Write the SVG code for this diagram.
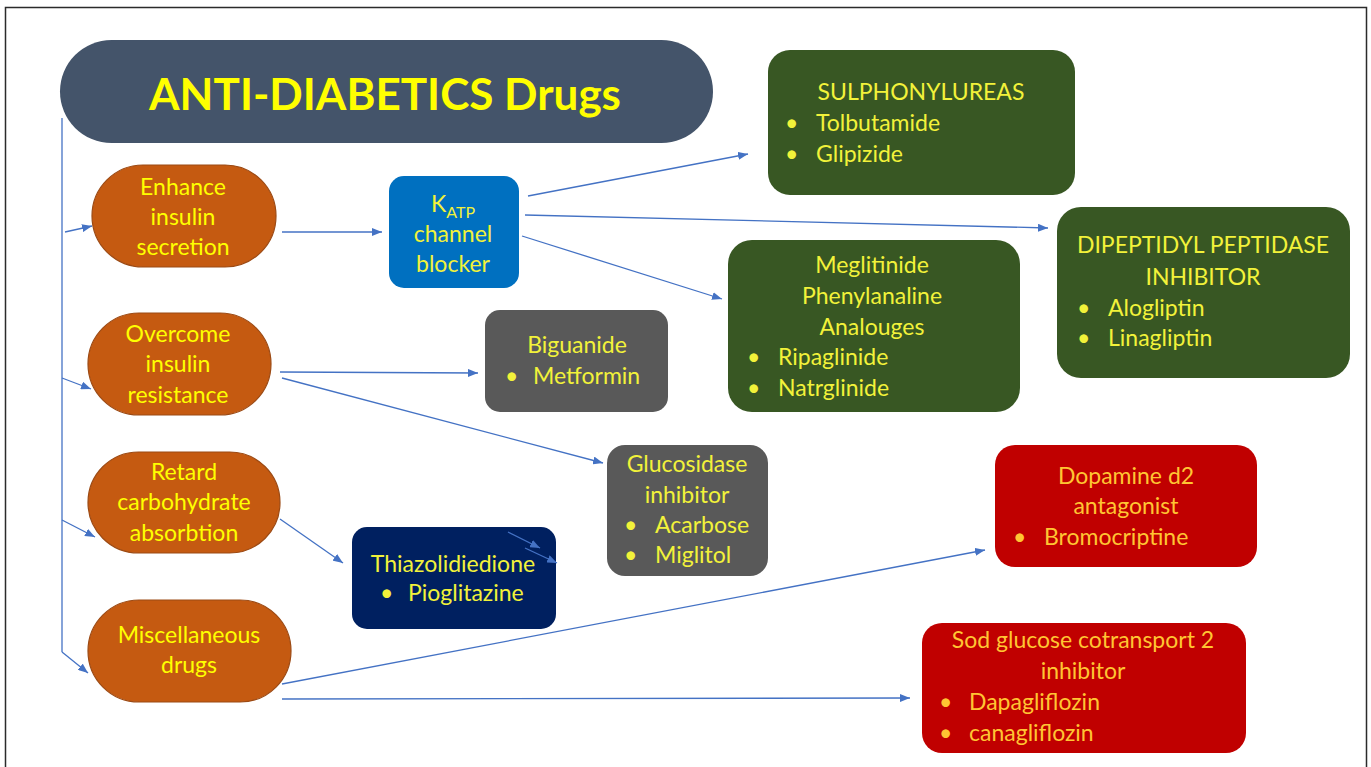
<svg xmlns="http://www.w3.org/2000/svg" width="1371" height="767" viewBox="0 0 1371 767">
<defs>
<marker id="ah" markerUnits="userSpaceOnUse" markerWidth="10" markerHeight="8" refX="10" refY="4" orient="auto">
<path d="M0,0 L10,4 L0,8 z" fill="#4472c4"/>
</marker>
<style>
.t{font-family:Lato,"Liberation Sans",sans-serif;font-size:23px;fill:#f2f23a;}
.c{text-anchor:middle;}
.oval{fill:#c55a11;stroke:#9c4a14;stroke-width:1.2;}
.ot{fill:#ffff00;}
.red{fill:#ffc533;}
.green{fill:#385723;}
.gray{fill:#595959;}
.conn line,.conn path{stroke:#4472c4;stroke-width:1.3;fill:none;}
.arr{marker-end:url(#ah);}
</style>
</defs>
<rect width="1371" height="767" fill="#ffffff"/>
<path d="M5.5,767 V7.5 H1366.5 V767" fill="none" stroke="#2b2b2b" stroke-width="1.5"/>

<g id="title">
<rect x="60" y="40" width="653" height="103" rx="51.5" fill="#44546a"/>
<text x="385" y="110" text-anchor="middle" font-family="Lato,'Liberation Sans',sans-serif" font-weight="bold" font-size="44" fill="#ffff00">ANTI-DIABETICS Drugs</text>
</g>

<g class="conn" id="connectors">
<line x1="62" y1="118" x2="62" y2="652"/>
<line class="arr" x1="65" y1="232" x2="92" y2="226"/>
<line class="arr" x1="62" y1="378" x2="91" y2="389"/>
<line class="arr" x1="62" y1="520" x2="95" y2="537"/>
<line class="arr" x1="62" y1="652" x2="88" y2="673"/>
<line class="arr" x1="282" y1="232" x2="382" y2="232"/>
<line class="arr" x1="528" y1="196" x2="748" y2="154"/>
<line class="arr" x1="525" y1="215" x2="1048" y2="228"/>
<line class="arr" x1="522" y1="236" x2="722" y2="299"/>
<line class="arr" x1="280" y1="372" x2="478" y2="373"/>
<line class="arr" x1="282" y1="378" x2="603" y2="463"/>
<line class="arr" x1="280" y1="519" x2="343" y2="563"/>
<line class="arr" x1="282" y1="684" x2="985" y2="550"/>
<line class="arr" x1="282" y1="699" x2="910" y2="698"/>
</g>

<g id="enhance">
<rect class="oval" x="92" y="165" width="184" height="102" rx="51"/>
<text class="t c ot" x="183" y="195">Enhance</text>
<text class="t c ot" x="183" y="225">insulin</text>
<text class="t c ot" x="183" y="255">secretion</text>
</g>

<g id="overcome">
<rect class="oval" x="88" y="313" width="183" height="102" rx="51"/>
<text class="t c ot" x="178" y="342">Overcome</text>
<text class="t c ot" x="178" y="372">insulin</text>
<text class="t c ot" x="178" y="403">resistance</text>
</g>

<g id="retard">
<rect class="oval" x="88" y="452" width="192" height="101" rx="50.5"/>
<text class="t c ot" x="184" y="480">Retard</text>
<text class="t c ot" x="184" y="510">carbohydrate</text>
<text class="t c ot" x="184" y="541">absorbtion</text>
</g>

<g id="misc">
<rect class="oval" x="88" y="600" width="203" height="102" rx="51"/>
<text class="t c ot" x="189" y="643">Miscellaneous</text>
<text class="t c ot" x="189" y="673">drugs</text>
</g>

<g id="katp">
<rect x="389" y="176" width="130" height="112" rx="15" fill="#0070c0"/>
<text class="t c" x="453" y="212">K<tspan font-size="16" dy="6">ATP</tspan></text>
<text class="t c" x="453" y="242">channel</text>
<text class="t c" x="453" y="272">blocker</text>
</g>

<g id="biguanide">
<rect class="gray" x="485" y="310" width="183" height="102" rx="15"/>
<text class="t c" x="577" y="353">Biguanide</text>
<text class="t" x="505" y="384">•</text>
<text class="t" x="533" y="384">Metformin</text>
</g>

<g id="glucosidase">
<rect class="gray" x="607" y="445" width="161" height="131" rx="18"/>
<text class="t c" x="687" y="472">Glucosidase</text>
<text class="t c" x="687" y="503">inhibitor</text>
<text class="t" x="624" y="533">•</text>
<text class="t" x="655" y="533">Acarbose</text>
<text class="t" x="624" y="563">•</text>
<text class="t" x="655" y="563">Miglitol</text>
</g>

<g id="thiazolidinedione">
<rect x="352" y="527" width="204" height="102" rx="15" fill="#002060"/>
<text class="t c" x="453" y="572">Thiazolidiedione</text>
<text class="t" x="380" y="601">•</text>
<text class="t" x="408" y="601">Pioglitazine</text>
<g class="conn">
<line class="arr" x1="508" y1="532" x2="540" y2="548"/>
<line class="arr" x1="525" y1="548" x2="557" y2="563"/>
</g>
</g>

<g id="sulphonylureas">
<rect class="green" x="768" y="50" width="307" height="145" rx="22"/>
<text class="t c" x="921" y="100">SULPHONYLUREAS</text>
<text class="t" x="785" y="131">•</text>
<text class="t" x="816" y="131">Tolbutamide</text>
<text class="t" x="785" y="162">•</text>
<text class="t" x="816" y="162">Glipizide</text>
</g>

<g id="meglitinide">
<rect class="green" x="728" y="240" width="292" height="172" rx="24"/>
<text class="t c" x="872" y="273">Meglitinide</text>
<text class="t c" x="872" y="304">Phenylanaline</text>
<text class="t c" x="872" y="335">Analouges</text>
<text class="t" x="747" y="365">•</text>
<text class="t" x="778" y="365">Ripaglinide</text>
<text class="t" x="747" y="396">•</text>
<text class="t" x="778" y="396">Natrglinide</text>
</g>

<g id="dpp">
<rect class="green" x="1057" y="207" width="293" height="171" rx="24"/>
<text class="t c" x="1203" y="253">DIPEPTIDYL PEPTIDASE</text>
<text class="t c" x="1203" y="285">INHIBITOR</text>
<text class="t" x="1077" y="316">•</text>
<text class="t" x="1108" y="316">Alogliptin</text>
<text class="t" x="1077" y="346">•</text>
<text class="t" x="1108" y="346">Linagliptin</text>
</g>

<g id="dopamine">
<rect x="995" y="445" width="262" height="122" rx="20" fill="#c00000"/>
<text class="t c red" x="1126" y="484">Dopamine d2</text>
<text class="t c red" x="1126" y="514">antagonist</text>
<text class="t red" x="1013" y="545">•</text>
<text class="t red" x="1044" y="545">Bromocriptine</text>
</g>

<g id="sglt2">
<rect x="922" y="623" width="324" height="130" rx="20" fill="#c00000"/>
<text class="t c red" x="1083" y="648">Sod glucose cotransport 2</text>
<text class="t c red" x="1083" y="679">inhibitor</text>
<text class="t red" x="939" y="710">•</text>
<text class="t red" x="969" y="710">Dapagliflozin</text>
<text class="t red" x="939" y="741">•</text>
<text class="t red" x="969" y="741">canagliflozin</text>
</g>
</svg>
